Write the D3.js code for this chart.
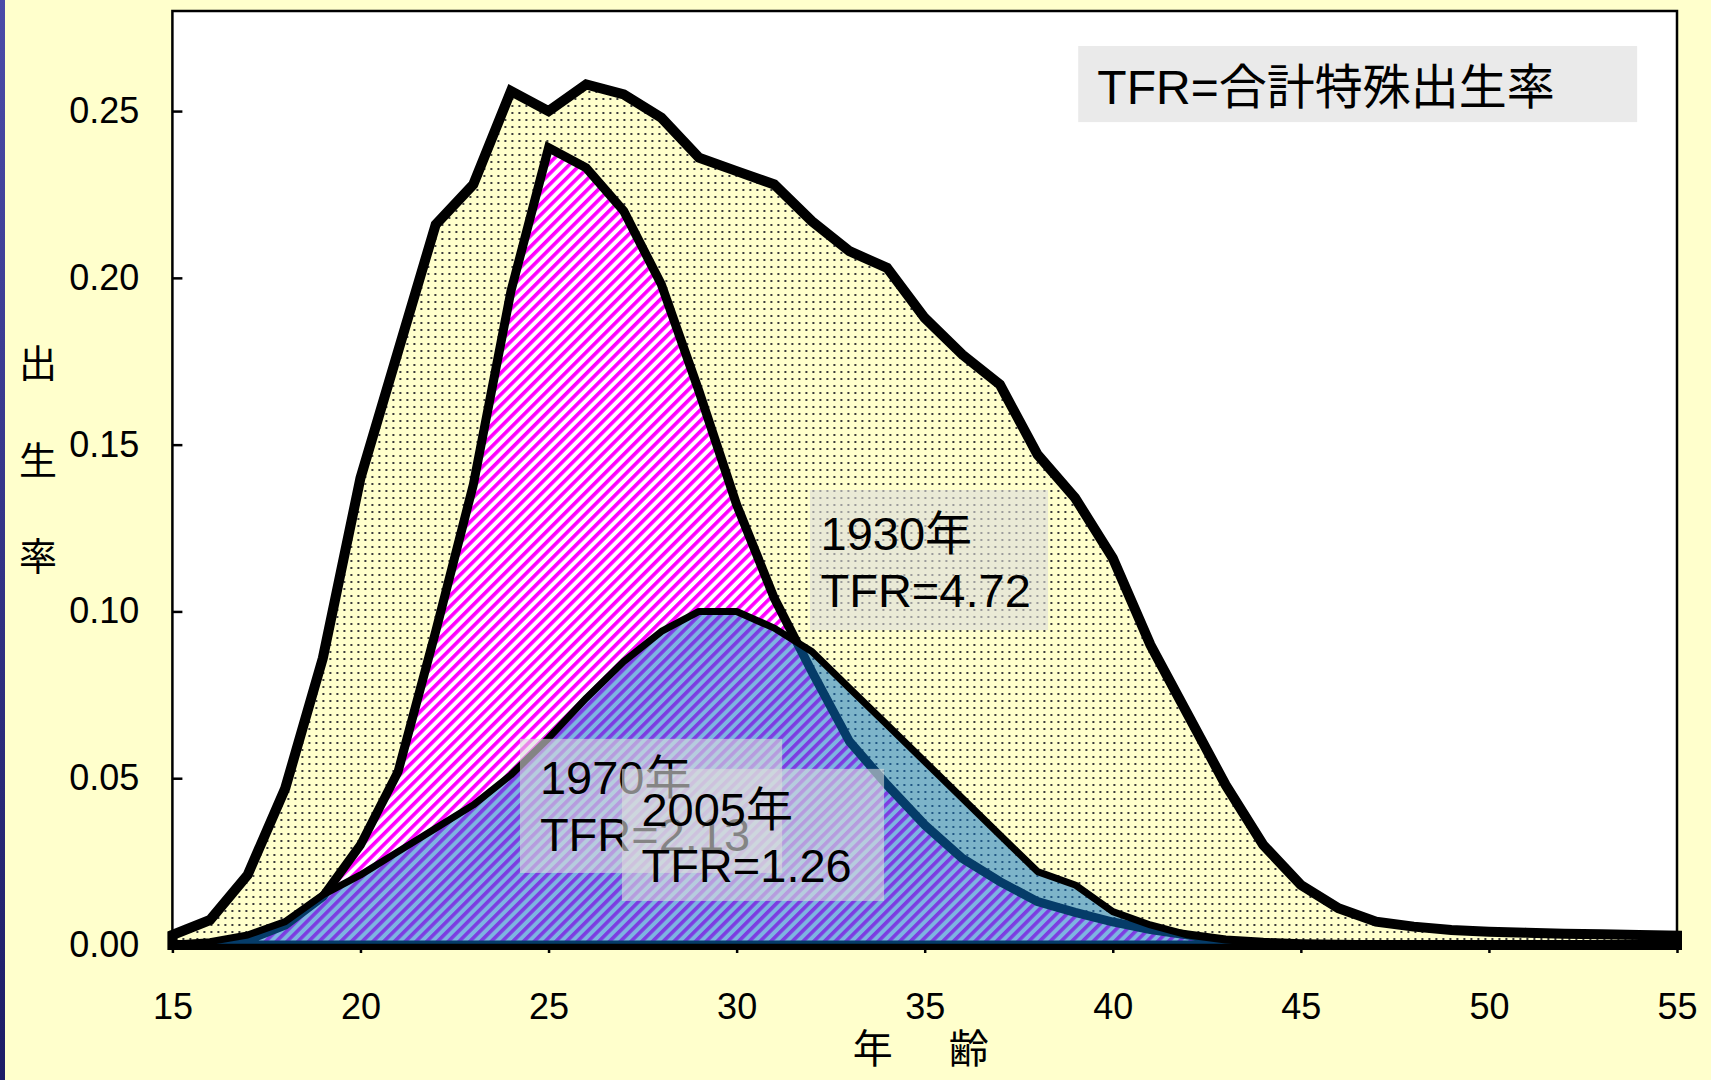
<!DOCTYPE html>
<html>
<head>
<meta charset="utf-8">
<script src="https://cdn.jsdelivr.net/npm/d3@7"></script>
<style>
  body { margin: 0; background: #FFFFCC; }
  text { font-family: "Liberation Sans", Arial, "Noto Sans CJK JP", sans-serif; fill: #000; }
</style>
</head>
<body>
<div id="chart"></div>
<script>
// age-specific fertility rates, ages 15..55
const ages = [15,16,17,18,19,20,21,22,23,24,25,26,27,28,29,30,31,32,33,34,35,
              36,37,38,39,40,41,42,43,44,45,46,47,48,49,50,51,52,53,54,55];
const rate1930 = [0.003,0.0075,0.021,0.047,0.086,0.140,0.178,0.216,0.228,0.256,0.250,
                  0.258,0.255,0.248,0.236,0.232,0.228,0.217,0.208,0.203,0.188,
                  0.177,0.168,0.147,0.134,0.116,0.090,0.069,0.048,0.030,0.018,
                  0.011,0.007,0.0055,0.0045,0.004,0.0037,0.0034,0.0032,0.003,0.0028];
const rate1970 = [0,0.0003,0.0015,0.006,0.0145,0.030,0.052,0.094,0.138,0.196,0.239,
                  0.233,0.220,0.198,0.166,0.132,0.104,0.082,0.061,0.048,0.036,
                  0.026,0.019,0.013,0.0098,0.0069,0.0046,0.003,0.0015,0.0008,0.0004,
                  0.0002,0.0001,0,0,0,0,0,0,0,0];
const rate2005 = [0.0002,0.001,0.003,0.007,0.015,0.021,0.028,0.035,0.042,0.051,0.062,
                  0.074,0.085,0.094,0.100,0.100,0.095,0.088,0.077,0.066,0.055,
                  0.044,0.033,0.022,0.018,0.010,0.006,0.003,0.0015,0.0007,0.0003,
                  0.0001,0,0,0,0,0,0,0,0,0];
const xTicks = [15,20,25,30,35,40,45,50,55];
const yTicks = [0,0.05,0.10,0.15,0.20,0.25];
const yTitle = ["出","生","率"];
const xTitle = "年　齢";
const legendText = "TFR=合計特殊出生率";
const notes1930 = ["1930年","TFR=4.72"];
const notes1970 = ["1970年","TFR=2.13"];
const notes2005 = ["2005年","TFR=1.26"];

const W = 1711, H = 1080;
const MARGIN = { TOP: 11, LEFT: 172.4, RIGHT: 34, BOTTOM: 135 };
const WIDTH = W - MARGIN.LEFT - MARGIN.RIGHT;
const HEIGHT = H - MARGIN.TOP - MARGIN.BOTTOM;

const svgRoot = d3.select("#chart").append("svg")
    .attr("width", W).attr("height", H);

const defs = svgRoot.append("defs");

// left edge strip of the slide
const grad = defs.append("linearGradient").attr("id", "edge")
    .attr("x1", 0).attr("y1", 0).attr("x2", 0).attr("y2", 1);
grad.append("stop").attr("offset", 0).attr("stop-color", "#4b4ba8");
grad.append("stop").attr("offset", 1).attr("stop-color", "#1c1c66");

// dotted yellow (1930)
const dots = defs.append("pattern").attr("id", "dots")
    .attr("patternUnits", "userSpaceOnUse").attr("width", 7).attr("height", 7);
dots.append("rect").attr("width", 7).attr("height", 7).attr("fill", "#FFFFCC");
dots.append("rect").attr("x", 3).attr("y", 3).attr("width", 2).attr("height", 2).attr("fill", "#3a3a3a");

// magenta hatch (1970)
const hatch = defs.append("pattern").attr("id", "hatch")
    .attr("patternUnits", "userSpaceOnUse").attr("width", 7.6).attr("height", 7.6)
    .attr("patternTransform", "rotate(45)");
hatch.append("rect").attr("width", 7.6).attr("height", 7.6).attr("fill", "#fff");
hatch.append("rect").attr("width", 3.6).attr("height", 7.6).attr("fill", "#FF00FF");

svgRoot.append("rect").attr("width", 5).attr("height", H).attr("fill", "url(#edge)");

const svg = svgRoot.append("g")
    .attr("transform", `translate(${MARGIN.LEFT}, ${MARGIN.TOP})`);

const x = d3.scaleLinear().domain([15, 55]).range([0, WIDTH]);
const y = d3.scaleLinear().domain([0, 0.28]).range([HEIGHT, 0]);

svg.append("rect").attr("width", WIDTH).attr("height", HEIGHT).attr("fill", "#fff");

const area = vals => d3.area()
    .x((d, i) => x(ages[i]))
    .y0(y(0))
    .y1((d, i) => y(vals[i]))(vals);
const line = vals => d3.line()
    .x((d, i) => x(ages[i]))
    .y((d, i) => y(vals[i]))(vals);

svg.append("path").attr("d", area(rate1930))
    .attr("fill", "url(#dots)").attr("stroke", "#000")
    .attr("stroke-width", 10).attr("stroke-linejoin", "miter").attr("stroke-miterlimit", 2.5);

svg.append("path").attr("d", area(rate1970))
    .attr("fill", "url(#hatch)").attr("stroke", "#000")
    .attr("stroke-width", 9).attr("stroke-linejoin", "miter").attr("stroke-miterlimit", 2.5);

// 2005 is a see-through blue layer over the other two
svg.append("path").attr("d", area(rate2005))
    .attr("fill", "rgb(10,113,198)").attr("fill-opacity", 0.53);
svg.append("path").attr("d", line(rate2005))
    .attr("fill", "none").attr("stroke", "#000")
    .attr("stroke-width", 7).attr("stroke-linejoin", "round");

// frame
svg.append("rect").attr("width", WIDTH).attr("height", HEIGHT)
    .attr("fill", "none").attr("stroke", "#000").attr("stroke-width", 2.5);

// axes
const xAxis = svg.append("g").attr("transform", `translate(0, ${HEIGHT})`)
    .call(d3.axisBottom(x).tickValues(xTicks).tickSize(8).tickSizeOuter(0).tickPadding(40));
const yAxis = svg.append("g")
    .call(d3.axisLeft(y).tickValues(yTicks).tickFormat(d3.format(".2f"))
      .tickSizeInner(-10).tickSizeOuter(0).tickPadding(33));
[xAxis, yAxis].forEach(g => {
  g.select(".domain").remove();
  g.selectAll("line").attr("stroke", "#000").attr("stroke-width", 2.5);
  g.selectAll("text").attr("font-size", 36).attr("font-family", null).attr("fill", "#000");
});

// axis titles
svg.append("text")
    .attr("x", x(35)).attr("y", HEIGHT + 118)
    .attr("text-anchor", "middle").attr("font-size", 40).attr("letter-spacing", 8)
    .text(xTitle);
svg.selectAll(".ytitle").data(yTitle).enter().append("text")
    .attr("class", "ytitle")
    .attr("x", 38 - MARGIN.LEFT)
    .attr("y", (d, i) => 363 - MARGIN.TOP + i * 96.5 + 14)
    .attr("text-anchor", "middle").attr("font-size", 38)
    .text(d => d);

// text boxes, placed in data units
function note(lines, box, tx, baselines, size) {
  svg.append("rect")
      .attr("x", x(box[0])).attr("y", y(box[2]))
      .attr("width", x(box[1]) - x(box[0])).attr("height", y(box[3]) - y(box[2]))
      .attr("fill", "rgb(220,220,220)").attr("fill-opacity", 0.6);
  lines.forEach((t, i) => {
    svg.append("text").attr("x", x(tx)).attr("y", y(baselines[i]))
        .attr("font-size", size).text(t);
  });
}
note([legendText], [39.08, 53.94, 0.2695, 0.2467], 39.59, [0.2522], 48);
note(notes1930, [31.95, 38.28, 0.1364, 0.0944], 32.23, [0.1184, 0.1013], 47);
note(notes1970, [24.24, 31.21, 0.0618, 0.0216], 24.77, [0.0453, 0.0282], 47);
note(notes2005, [26.95, 33.92, 0.0528, 0.0132], 27.47, [0.0357, 0.0189], 47);
</script>
</body>
</html>
